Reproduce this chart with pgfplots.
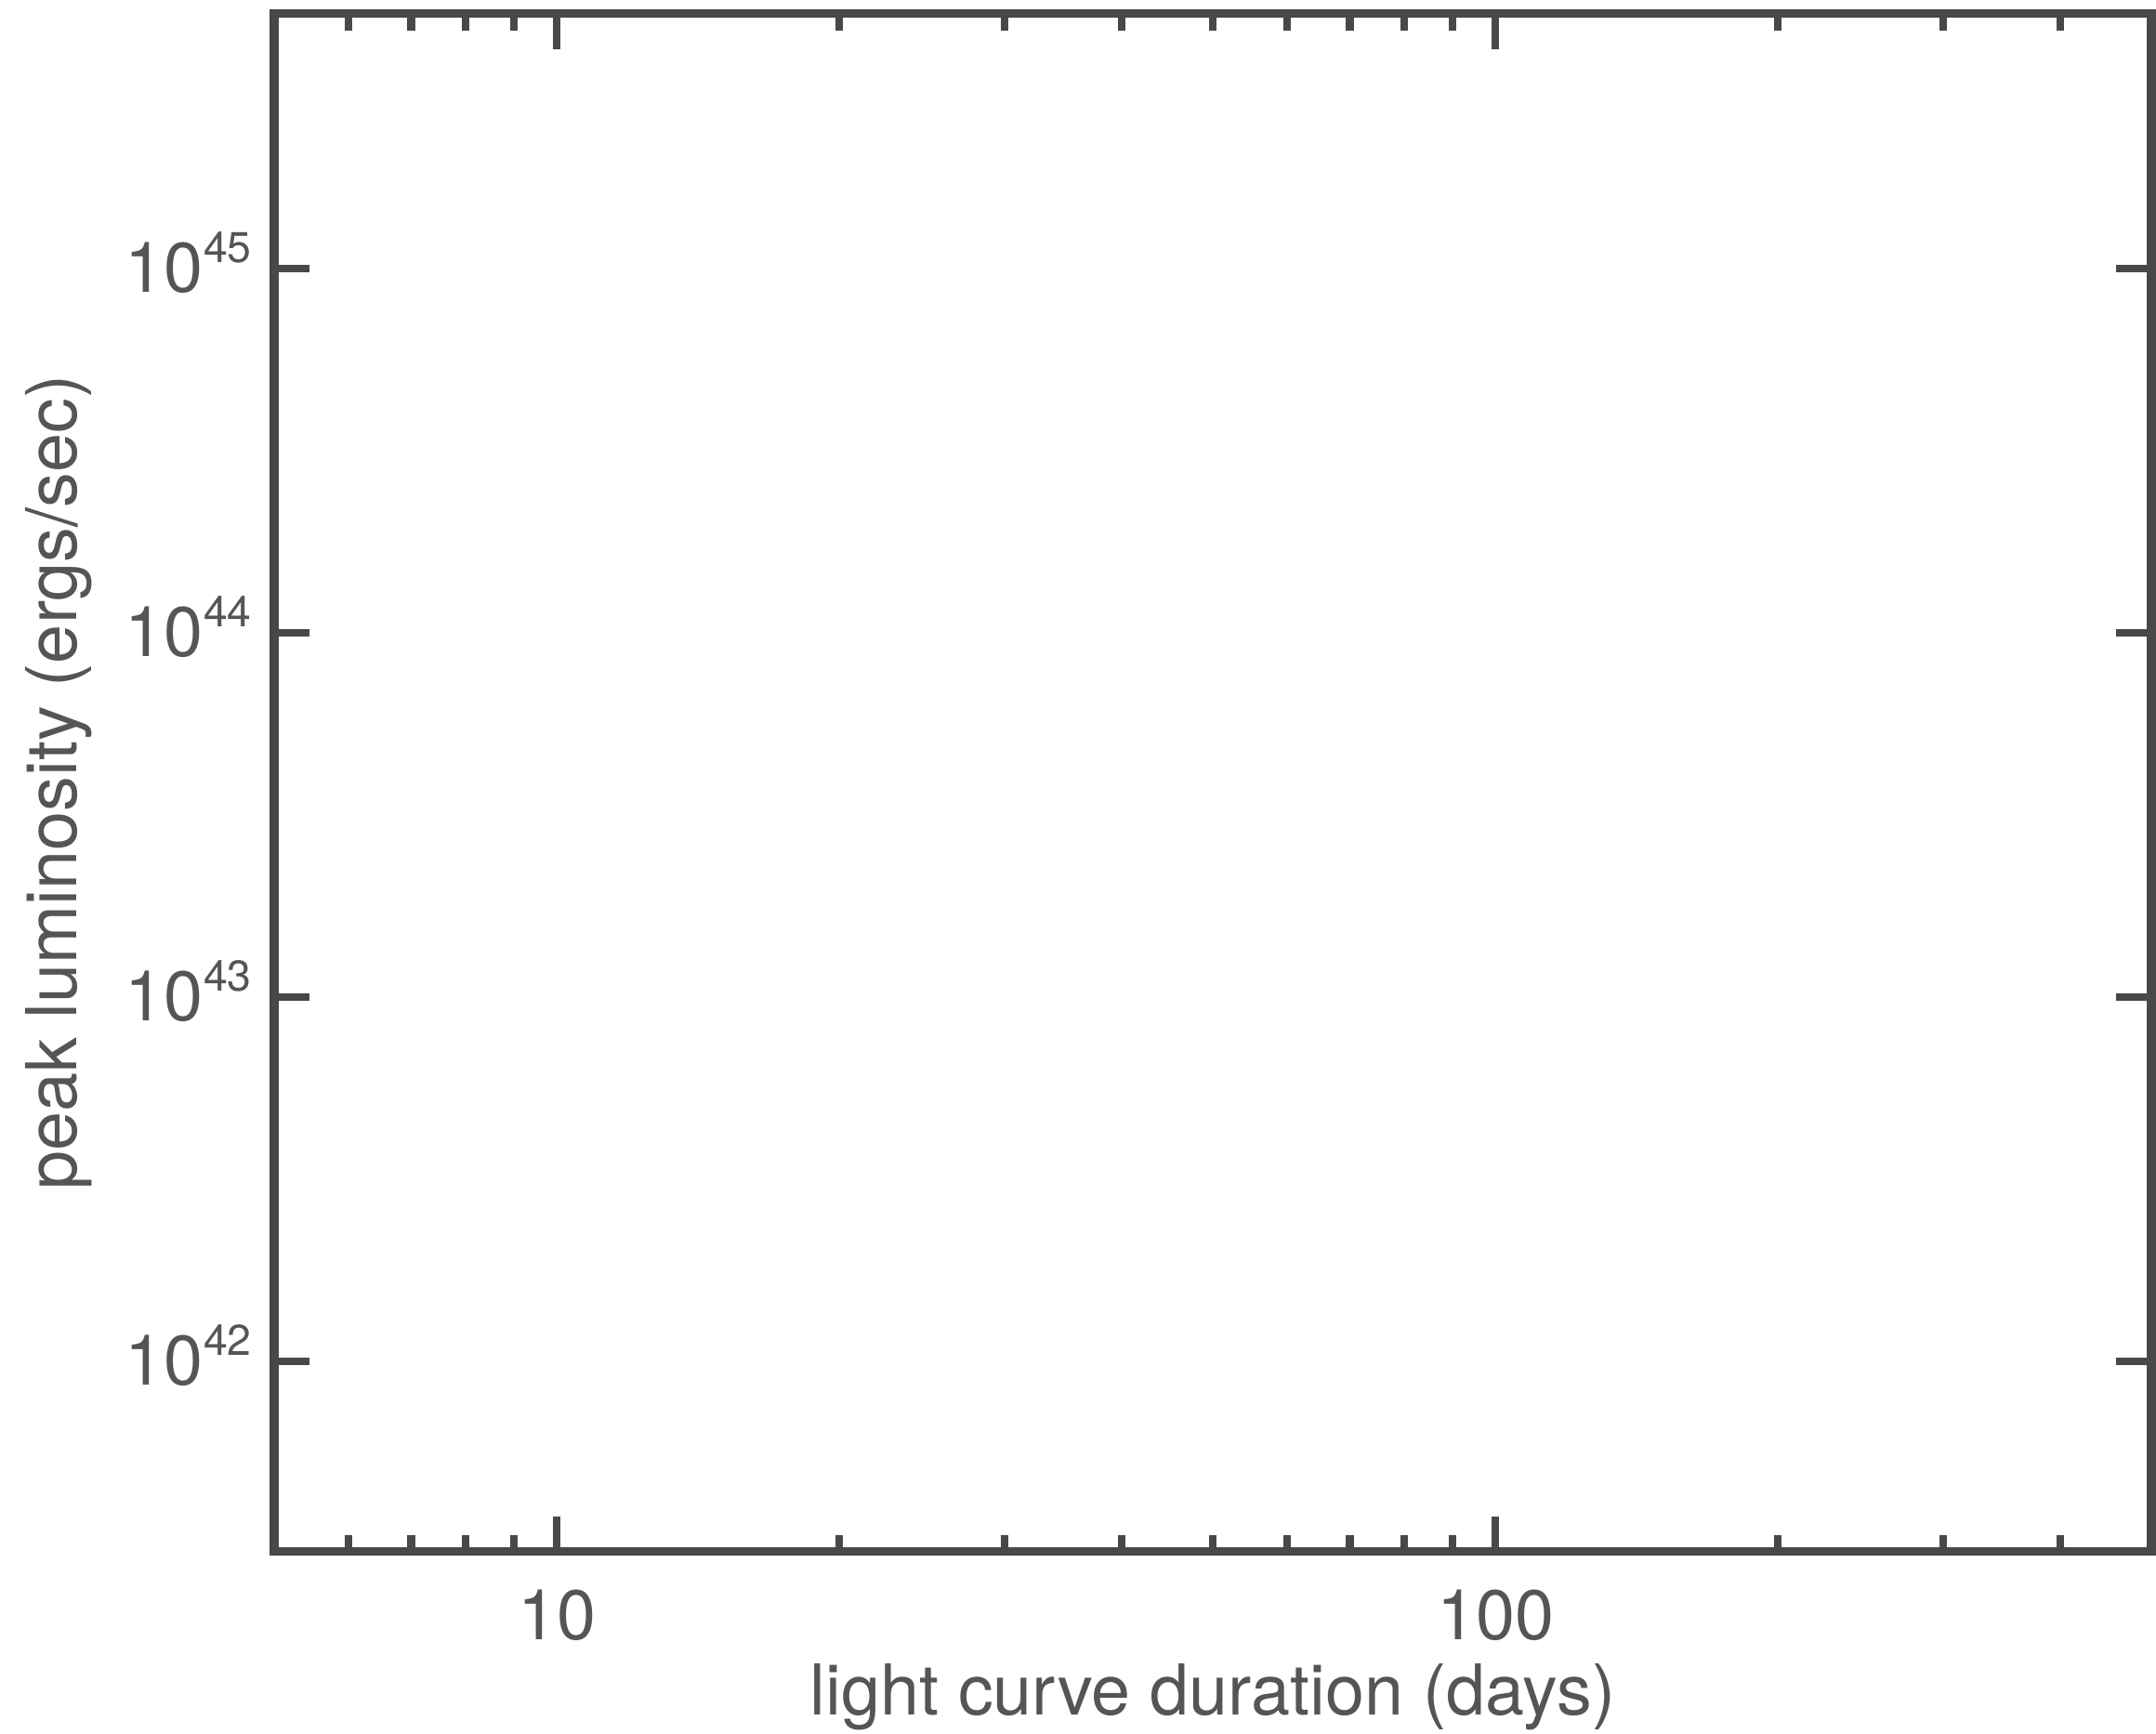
\documentclass[border=0pt]{standalone}
\usepackage{fontspec}
\setmainfont{TeX Gyre Heros}
\usepackage{pgfplots}
\pgfplotsset{compat=1.18}
\definecolor{axisgray}{RGB}{72,72,72}
\definecolor{textgray}{RGB}{85,85,85}
\newcommand{\ex}[1]{10\raisebox{4.6pt}{\fontsize{6.6}{7}\selectfont #1}}

\begin{document}
\begin{tikzpicture}
\begin{axis}[
    scale only axis,
    width=10.1cm, height=8.275cm,
    xmode=log, ymode=log,
    xmin=5, xmax=500,
    ymin=3e41, ymax=5e45,
    xtick={10,100},
    xticklabels={10,100},
    minor xtick={6,7,8,9,20,30,40,50,60,70,80,90,200,300,400},
    ytick={1e42,1e43,1e44,1e45},
    yticklabels={\ex{42},\ex{43},\ex{44},\ex{45}},
    yminorticks=false,
    major tick length=0.19cm,
    minor tick length=0.09cm,
    tick style={line width=1.2pt, color=axisgray},
    axis line style={line width=1.3pt, color=axisgray},
    font=\fontsize{10.75}{12}\selectfont,
    every tick label/.append style={text=textgray, inner sep=0pt},
    xticklabel style={anchor=base, yshift=-0.475cm},
    yticklabel style={anchor=base east, xshift=-0.115cm, yshift=-0.13cm},
    xlabel={light curve duration (days)},
    ylabel={peak luminosity (ergs/sec)},
    xlabel style={at={(axis description cs:0.5,-0.1063)}, anchor=base, text=textgray, inner sep=0pt},
    ylabel style={at={(axis description cs:-0.1054,0.5)}, anchor=base, text=textgray, inner sep=0pt},
]
\end{axis}
\pgfresetboundingbox
\path ([shift={(-1.475cm,-0.98cm)}]current axis.south west) rectangle ([shift={(0.025cm,0.075cm)}]current axis.north east);
\end{tikzpicture}
\end{document}
